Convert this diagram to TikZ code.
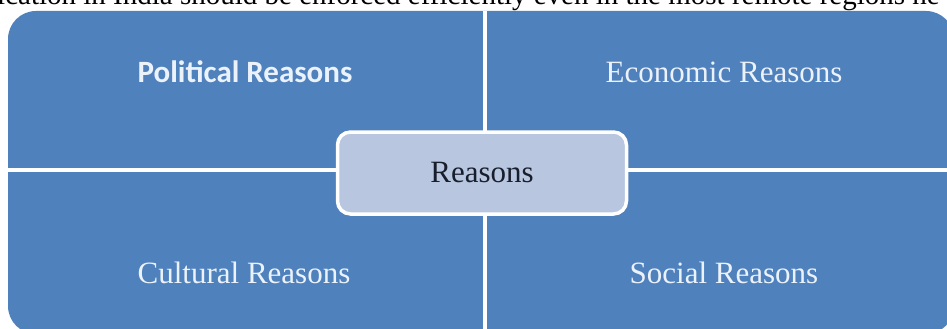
\documentclass[tikz,border=0pt]{standalone}
\usepackage{fontspec}
\setmainfont{Liberation Serif}
\newfontfamily\calibrifont{Carlito}
\definecolor{quadblue}{RGB}{79,129,189}
\definecolor{hubfill}{RGB}{185,198,224}
\definecolor{labelwhite}{RGB}{236,242,250}
\definecolor{hubtext}{RGB}{25,30,45}
\begin{document}
\begin{tikzpicture}[x=1pt,y=-1pt,line join=round,
  quad/.style={fill=quadblue},
  divider/.style={white,line width=4pt},
  quadlabel/.style={text=labelwhite,inner sep=0pt,font=\fontsize{31}{36}\selectfont},
  hub/.style={draw=white,line width=3.5pt,fill=hubfill,rounded corners=13pt,
    minimum width=289pt,minimum height=82pt,text=hubtext,font=\fontsize{31}{36}\selectfont}]
\useasboundingbox (0,0) rectangle (947,329);
\clip (0,0) rectangle (947,329);
% cut-off line of page text
\node[anchor=base west,inner sep=0pt,font=\fontsize{29}{34}\selectfont] (pagetext) at (-3,5)
  {ication in India should be enforced efficiently even in the most remote regions he};
% matrix background and dividers
\fill[quad,rounded corners=28pt] (8,11) rectangle (954,334);
\draw[divider] (485,11) -- (485,329);
\draw[divider] (8,170) -- (947,170);
% labels
\node[quadlabel,font=\calibrifont\bfseries\fontsize{31}{36}\selectfont] (political) at (245,72) {Political Reasons};
\node[quadlabel] (economic) at (724,72) {Economic Reasons};
\node[quadlabel] (cultural) at (244,273) {Cultural Reasons};
\node[quadlabel] (social) at (724,273) {Social Reasons};
\node[hub] (hub) at (482,173) {Reasons};
\end{tikzpicture}
\end{document}
